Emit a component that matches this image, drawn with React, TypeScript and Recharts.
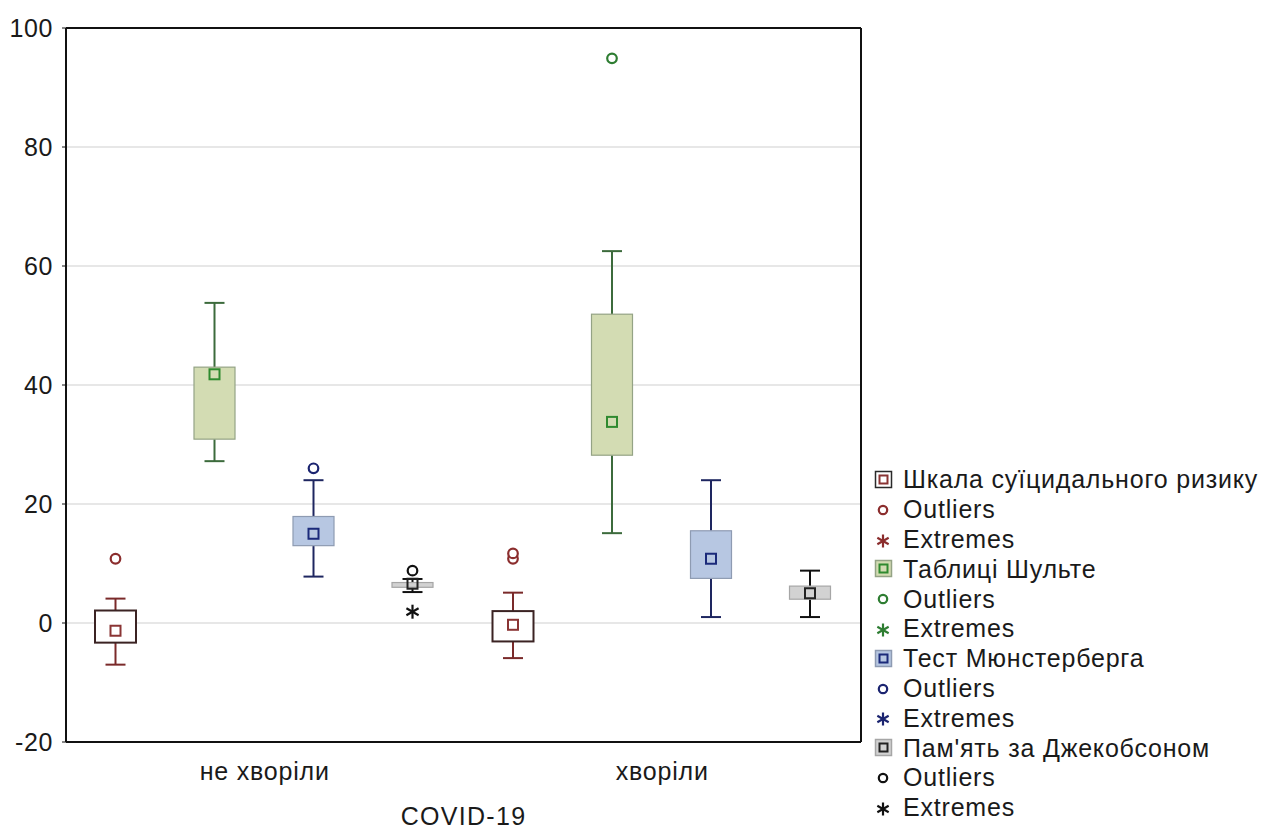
import React from "react";
import { ComposedChart, Bar, XAxis, YAxis, CartesianGrid } from "recharts";

const groups = ["не хворіли", "хворіли"];
const seriesNames = [
  "Шкала суїцидального ризику",
  "Таблиці Шульте",
  "Тест Мюнстерберга",
  "Пам'ять за Джекобсоном",
];

// per series, per group
const whiskerLow = [[-7.0, -5.9], [27.2, 15.1], [7.8, 1.0], [5.2, 1.0]];
const q1 = [[-3.3, -3.1], [30.9, 28.2], [13.0, 7.5], [6.0, 4.0]];
const median = [[-1.3, -0.3], [41.8, 33.8], [15.0, 10.8], [6.6, 5.0]];
const q3 = [[2.1, 2.0], [43.0, 51.9], [17.9, 15.5], [6.8, 6.2]];
const whiskerHigh = [[4.1, 5.1], [53.8, 62.5], [24.0, 24.0], [7.4, 8.8]];
const outliers = [[[10.8], [10.8, 11.7]], [[], [94.9]], [[26.0], []], [[8.8], []]];
const extremes = [[[], []], [[], []], [[], []], [[1.9], []]];

const yTicks = [-20, 0, 20, 40, 60, 80, 100];

const boxFill = ["#ffffff", "#d3dcb3", "#b7c7e2", "#d2d2d2"];
const boxStroke = ["#3b2323", "#94a385", "#8e9bb2", "#a6a6a6"];
const whiskerColor = ["#7a2a2a", "#3c6b3c", "#1e2660", "#111111"];
const markerColor = ["#8a3434", "#2f8a2f", "#1b2a7a", "#222222"];
const pointColor = ["#8b2d2d", "#2e7d32", "#1b2470", "#111111"];

const font = "'Liberation Sans', Arial, sans-serif";
const textColor = "#1a1a1a";

const rows = groups.map((name, gi) => {
  const stats = seriesNames.map((_, si) => {
    const all = [whiskerLow[si][gi], whiskerHigh[si][gi], ...outliers[si][gi], ...extremes[si][gi]];
    return {
      min: whiskerLow[si][gi],
      q1: q1[si][gi],
      med: median[si][gi],
      q3: q3[si][gi],
      max: whiskerHigh[si][gi],
      out: outliers[si][gi],
      ext: extremes[si][gi],
      lo: Math.min(...all),
      hi: Math.max(...all),
    };
  });
  return { name, stats };
});

function Asterisk({ cx, cy, color, r = 7 }: any) {
  const dx = r * 0.87;
  const dy = r * 0.5;
  return (
    <g stroke={color} strokeWidth={2.2}>
      <line x1={cx} y1={cy - r} x2={cx} y2={cy + r} />
      <line x1={cx - dx} y1={cy - dy} x2={cx + dx} y2={cy + dy} />
      <line x1={cx - dx} y1={cy + dy} x2={cx + dx} y2={cy - dy} />
    </g>
  );
}

function BoxShape(props: any) {
  const { x, y, width, height, payload, si } = props;
  const s = payload.stats[si];
  const top = Math.min(y, y + height);
  const bot = Math.max(y, y + height);
  const py = (v: number) => top + ((s.hi - v) / (s.hi - s.lo)) * (bot - top);
  const cx = x + width / 2;
  const bw = 41;
  const cw = 20;
  const wc = whiskerColor[si];
  return (
    <g>
      <line x1={cx} y1={py(s.max)} x2={cx} y2={py(s.q3)} stroke={wc} strokeWidth={2} />
      <line x1={cx} y1={py(s.q1)} x2={cx} y2={py(s.min)} stroke={wc} strokeWidth={2} />
      <line x1={cx - cw / 2} y1={py(s.max)} x2={cx + cw / 2} y2={py(s.max)} stroke={wc} strokeWidth={2} />
      <line x1={cx - cw / 2} y1={py(s.min)} x2={cx + cw / 2} y2={py(s.min)} stroke={wc} strokeWidth={2} />
      <rect
        x={cx - bw / 2}
        y={py(s.q3)}
        width={bw}
        height={py(s.q1) - py(s.q3)}
        fill={boxFill[si]}
        stroke={boxStroke[si]}
        strokeWidth={si === 0 ? 2 : 1.2}
      />
      <rect x={cx - 5} y={py(s.med) - 5} width={10} height={10} fill="none" stroke={markerColor[si]} strokeWidth={2} />
      {s.out.map((v: number, i: number) => (
        <circle key={"o" + i} cx={cx} cy={py(v)} r={4.8} fill="#fff" stroke={pointColor[si]} strokeWidth={2.2} />
      ))}
      {s.ext.map((v: number, i: number) => (
        <Asterisk key={"e" + i} cx={cx} cy={py(v)} color={pointColor[si]} />
      ))}
    </g>
  );
}

function LegendBlock() {
  const rowH = 29.8;
  const items: any[] = [];
  seriesNames.forEach((name, si) => {
    items.push({ kind: "box", label: name, si });
    items.push({ kind: "out", label: "Outliers", si });
    items.push({ kind: "ext", label: "Extremes", si });
  });
  return (
    <div
      style={{
        position: "absolute",
        left: 873,
        top: 480 - rowH / 2,
        fontFamily: font,
        fontSize: 25,
        letterSpacing: 0.8,
        color: textColor,
      }}
    >
      {items.map((it, i) => (
        <div key={i} style={{ height: rowH, display: "flex", alignItems: "center", whiteSpace: "nowrap" }}>
          <svg width={30} height={20} style={{ flex: "none" }}>
            {it.kind === "box" && (
              <g>
                <rect
                  x={2.5}
                  y={1.5}
                  width={16}
                  height={16}
                  fill={boxFill[it.si]}
                  stroke={it.si === 0 ? "#2a2a2a" : boxStroke[it.si]}
                  strokeWidth={1.5}
                />
                <rect x={6.5} y={5.5} width={8} height={8} fill="none" stroke={markerColor[it.si]} strokeWidth={2} />
              </g>
            )}
            {it.kind === "out" && <circle cx={10} cy={10} r={4.2} fill="#fff" stroke={pointColor[it.si]} strokeWidth={2.2} />}
            {it.kind === "ext" && <Asterisk cx={10} cy={11} color={pointColor[it.si]} r={6.5} />}
          </svg>
          <span>{it.label}</span>
        </div>
      ))}
    </div>
  );
}

export default function App() {
  return (
    <div style={{ position: "absolute", left: 0, top: 0, width: 1262, height: 829, background: "#fff" }}>
      <ComposedChart
        width={1262}
        height={829}
        data={rows}
        margin={{ top: 27, right: 400, bottom: 0, left: 0 }}
        barCategoryGap={0}
        barGap={0}
      >
        <CartesianGrid vertical={false} stroke="#cfcfcf" strokeWidth={1.2} />
        <XAxis
          dataKey="name"
          height={87}
          tickSize={0}
          tickMargin={20}
          axisLine={{ stroke: "#111", strokeWidth: 2 }}
          tick={{ fill: textColor, fontSize: 25, fontFamily: font, letterSpacing: 0.8 }}
          label={{
            value: "COVID-19",
            position: "insideBottom",
            offset: 4,
            fill: textColor,
            fontSize: 25,
            fontFamily: font,
            letterSpacing: 1.3,
          }}
        />
        <XAxis
          xAxisId="top"
          dataKey="name"
          orientation="top"
          height={1}
          tick={false}
          tickLine={false}
          axisLine={{ stroke: "#111", strokeWidth: 2 }}
        />
        <YAxis
          domain={[-20, 100]}
          ticks={yTicks}
          width={66}
          tickSize={4}
          tickMargin={9}
          interval={0}
          axisLine={{ stroke: "#111", strokeWidth: 2 }}
          tickLine={{ stroke: "#111" }}
          tick={{ fill: textColor, fontSize: 25, fontFamily: font, letterSpacing: 0.6 }}
        />
        <YAxis
          yAxisId="right"
          orientation="right"
          domain={[-20, 100]}
          ticks={yTicks}
          width={1}
          tickSize={4}
          interval={0}
          tickFormatter={() => ""}
          axisLine={{ stroke: "#111", strokeWidth: 2 }}
          tickLine={{ stroke: "#111" }}
        />
        {seriesNames.map((name, si) => (
          <Bar
            key={name}
            name={name}
            dataKey={(r: any) => [r.stats[si].lo, r.stats[si].hi]}
            isAnimationActive={false}
            shape={(p: any) => <BoxShape {...p} si={si} />}
          />
        ))}
      </ComposedChart>
      <LegendBlock />
    </div>
  );
}
